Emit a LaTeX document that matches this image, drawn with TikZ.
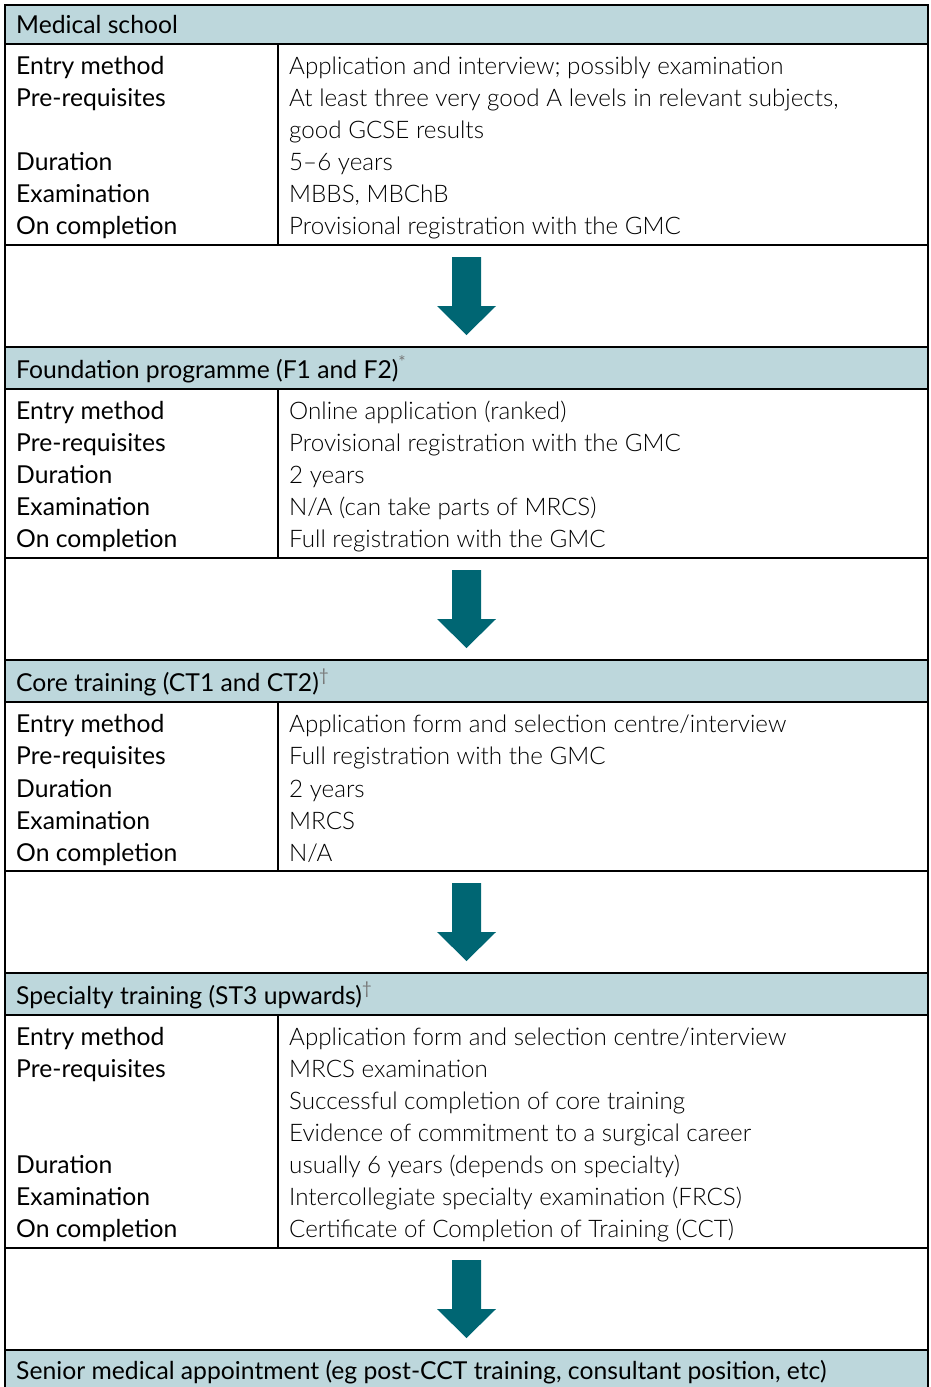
\documentclass[tikz,border=0pt]{standalone}
\usepackage{fontspec}
\setmainfont{Lato}
\newfontfamily\lightfont{Lato Light}
\definecolor{hdr}{HTML}{BDD7DC}
\definecolor{arr}{HTML}{006673}
\definecolor{supc}{HTML}{777777}
\begin{document}
\begin{tikzpicture}[x=1pt,y=-1pt,
  lab/.style={anchor=base west, inner sep=0, font=\fontsize{24.7}{28}\selectfont},
  val/.style={anchor=base west, inner sep=0, font=\lightfont\fontsize{24.2}{28}\selectfont},
  hdrbox/.style={draw, line width=2pt, fill=hdr},
  tabbox/.style={draw, line width=2pt},
  divline/.style={line width=1.5pt},
  blockarrow/.style={fill=arr}]
\useasboundingbox (0,0) rectangle (930,1387);
% frames
\foreach \t/\b in {5/44, 347/389, 660/702, 973/1015}
  \draw[hdrbox] (5,\t) rectangle (928,\b);
\draw[hdrbox] (5,1350) rectangle (928,1400);
\foreach \t/\b in {44/245, 389/558, 702/871, 1015/1248}
  {\draw[tabbox] (5,\t) rectangle (928,\b);
   \draw[divline] (278,\t) -- (278,\b);}
\foreach \t/\b in {245/347, 558/660, 871/973, 1248/1350}
  \draw[tabbox] (5,\t) rectangle (928,\b);
% arrows
\foreach \t [count=\i] in {245,558,871,1248}{
  \coordinate (a\i) at (466.5,\t);
  \fill[blockarrow] ([shift={(-14.5,12)}]a\i) -- ([shift={(14.5,12)}]a\i) -- ([shift={(14.5,61)}]a\i) -- ([shift={(29.5,61)}]a\i) -- ([shift={(0,90)}]a\i) -- ([shift={(-29.5,61)}]a\i) -- ([shift={(-14.5,61)}]a\i) -- cycle;
}
% headers
\node[lab] (h1) at (16,33) {Medical school};
\node[lab] (h2) at (16,378) {Foundation programme (F1 and F2)\textsuperscript{\color{supc}*}};
\node[lab] (h3) at (16,691) {Core training (CT1 and CT2)\textsuperscript{\color{supc}†}};
\node[lab] (h4) at (16,1004) {Specialty training (ST3 upwards)\textsuperscript{\color{supc}†}};
\node[lab] (h5) at (16,1379) {Senior medical appointment (eg post-CCT training, consultant position, etc)};
% table 1
\node[lab] (l11) at (16,74) {Entry method};
\node[lab] (l12) at (16,106) {Pre-requisites};
\node[lab] (l13) at (16,170) {Duration};
\node[lab] (l14) at (16,202) {Examination};
\node[lab] (l15) at (16,234) {On completion};
\node[val] (v11) at (289,74) {Application and interview; possibly examination};
\node[val] (v12) at (289,106) {At least three very good A levels in relevant subjects,};
\node[val] (v12b) at (289,138) {good GCSE results};
\node[val] (v13) at (289,170) {5–6 years};
\node[val] (v14) at (289,202) {MBBS, MBChB};
\node[val] (v15) at (289,234) {Provisional registration with the GMC};
% table 2
\node[lab] (l21) at (16,419) {Entry method};
\node[lab] (l22) at (16,451) {Pre-requisites};
\node[lab] (l23) at (16,483) {Duration};
\node[lab] (l24) at (16,515) {Examination};
\node[lab] (l25) at (16,547) {On completion};
\node[val] (v21) at (289,419) {Online application (ranked)};
\node[val] (v22) at (289,451) {Provisional registration with the GMC};
\node[val] (v23) at (289,483) {2 years};
\node[val] (v24) at (289,515) {N/A (can take parts of MRCS)};
\node[val] (v25) at (289,547) {Full registration with the GMC};
% table 3
\node[lab] (l31) at (16,732) {Entry method};
\node[lab] (l32) at (16,764) {Pre-requisites};
\node[lab] (l33) at (16,797) {Duration};
\node[lab] (l34) at (16,829) {Examination};
\node[lab] (l35) at (16,861) {On completion};
\node[val] (v31) at (289,732) {Application form and selection centre/interview};
\node[val] (v32) at (289,764) {Full registration with the GMC};
\node[val] (v33) at (289,797) {2 years};
\node[val] (v34) at (289,829) {MRCS};
\node[val] (v35) at (289,861) {N/A};
% table 4
\node[lab] (l41) at (16,1045) {Entry method};
\node[lab] (l42) at (16,1077) {Pre-requisites};
\node[lab] (l43) at (16,1173) {Duration};
\node[lab] (l44) at (16,1205) {Examination};
\node[lab] (l45) at (16,1237) {On completion};
\node[val] (v41) at (289,1045) {Application form and selection centre/interview};
\node[val] (v42) at (289,1077) {MRCS examination};
\node[val] (v42b) at (289,1109) {Successful completion of core training};
\node[val] (v42c) at (289,1141) {Evidence of commitment to a surgical career};
\node[val] (v43) at (289,1173) {usually 6 years (depends on specialty)};
\node[val] (v44) at (289,1205) {Intercollegiate specialty examination (FRCS)};
\node[val] (v45) at (289,1237) {Certificate of Completion of Training (CCT)};
\end{tikzpicture}
\end{document}
